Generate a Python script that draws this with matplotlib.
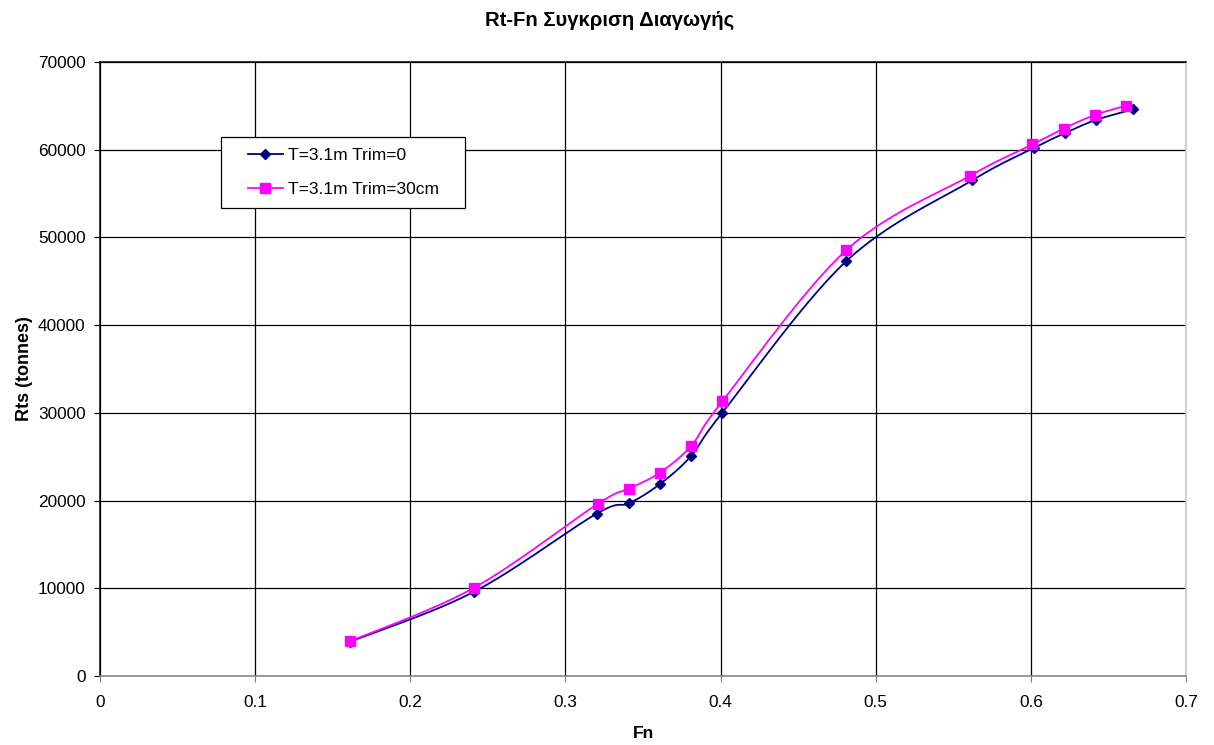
import numpy as np
import matplotlib
matplotlib.use("Agg")
import matplotlib.pyplot as plt
from matplotlib.lines import Line2D
from matplotlib.legend_handler import HandlerLine2D

plt.rcParams['font.family'] = ['Liberation Sans', 'DejaVu Sans']

# Froude number vs total resistance for the two trim conditions
fn_trim0 = [0.161, 0.241, 0.320, 0.341, 0.361, 0.381, 0.401, 0.481, 0.562, 0.602, 0.622, 0.642, 0.666]
rts_trim0 = [3900, 9600, 18500, 19700, 21900, 25100, 30000, 47300, 56500, 60200, 61900, 63400, 64600]

fn_trim30 = [0.161, 0.241, 0.321, 0.341, 0.361, 0.381, 0.401, 0.481, 0.561, 0.601, 0.621, 0.641, 0.661]
rts_trim30 = [3950, 10050, 19650, 21350, 23200, 26250, 31300, 48550, 57050, 60600, 62400, 63950, 65000]

labels = ['T=3.1m Trim=0', 'T=3.1m Trim=30cm']
colors = ['#000080', '#FF00FF']
markers = ['D', 's']
marker_sizes = [4.6, 6.7]


def smooth(x, y, n=30):
    # Catmull-Rom style bezier through every point (like spreadsheet smoothed lines)
    x = np.asarray(x, float)
    y = np.asarray(y, float)
    px = np.concatenate([[x[0]], x, [x[-1]]])
    py = np.concatenate([[y[0]], y, [y[-1]]])
    xs, ys = [], []
    t = np.linspace(0, 1, n)
    for i in range(1, len(px) - 2):
        p0 = np.array([px[i], py[i]])
        p3 = np.array([px[i + 1], py[i + 1]])
        c1 = p0 + (p3 - np.array([px[i - 1], py[i - 1]])) / 6
        c2 = p3 - (np.array([px[i + 2], py[i + 2]]) - p0) / 6
        b = ((1 - t) ** 3)[:, None] * p0 + (3 * (1 - t) ** 2 * t)[:, None] * c1 \
            + (3 * (1 - t) * t ** 2)[:, None] * c2 + (t ** 3)[:, None] * p3
        xs.extend(b[:, 0])
        ys.extend(b[:, 1])
    return xs, ys


fig = plt.figure(figsize=(12.14, 7.45), dpi=100)
ax = fig.add_axes([0.0824, 0.0926, 0.8946, 0.8242])

series = [(fn_trim0, rts_trim0), (fn_trim30, rts_trim30)]
handles = []
for (fx, ry), c, m, ms, lab in zip(series, colors, markers, marker_sizes, labels):
    sx, sy = smooth(fx, ry)
    ax.plot(sx, sy, color=c, lw=1.3, zorder=3)
    ax.plot(fx, ry, linestyle='none', marker=m, color=c, markersize=ms, zorder=4)
    handles.append(Line2D([], [], color=c, marker=m, markersize=ms, lw=1.3, label=lab + '   '))

ax.set_xlim(0, 0.7)
ax.set_ylim(0, 70000)
ax.set_xticks(np.arange(0, 0.71, 0.1))
ax.set_xticklabels(['0', '0.1', '0.2', '0.3', '0.4', '0.5', '0.6', '0.7'])
ax.set_yticks(np.arange(0, 70001, 10000))
ax.grid(True, color='black', lw=0.9)
ax.set_axisbelow(True)
ax.spines['left'].set_color('black')
ax.spines['top'].set_color('black')
ax.spines['bottom'].set_color('#808080')
ax.spines['right'].set_color('#c8c8c8')
for s in ax.spines.values():
    s.set_linewidth(1.1)
ax.tick_params(axis='x', labelsize=12.4, length=4, color='#808080', pad=10)
ax.tick_params(axis='y', labelsize=12.4, length=4, color='black', pad=6.5)

fig.text(0.502, 0.973, 'Rt-Fn Συγκριση Διαγωγής', fontsize=14.6, fontweight='bold',
         ha='center', va='center')
fig.text(0.5297, 0.016, 'Fn', fontsize=12.6, fontweight='bold', ha='center', va='center')
fig.text(0.0198, 0.5047, 'Rts (tonnes)', fontsize=13, fontweight='bold',
         ha='center', va='center', rotation=90)

leg = ax.legend(handles=handles, loc='upper left', bbox_to_anchor=(0.111, 0.878),
                fontsize=12.5, fancybox=False, framealpha=1, edgecolor='black',
                borderpad=0.62, labelspacing=1.09, handlelength=2.97, handletextpad=0.3,
                borderaxespad=0, handler_map={Line2D: HandlerLine2D(xpad=0.95)})
leg.get_frame().set_linewidth(0.9)

fig.savefig('out.png', dpi=100)
